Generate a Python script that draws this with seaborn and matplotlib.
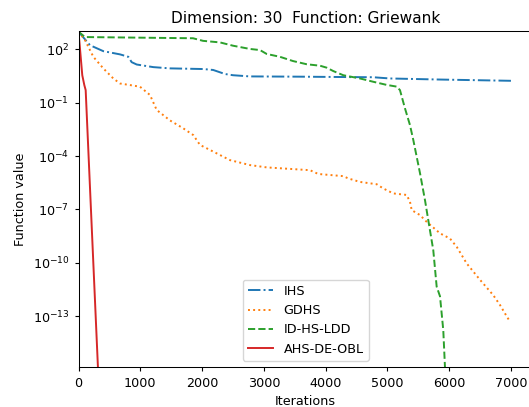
import pandas as pd
import matplotlib
matplotlib.use("Agg")
import matplotlib.pyplot as plt
import seaborn as sns

# Convergence curves (iteration, function value)
ihs_x = [0, 186, 401, 672, 806, 860, 942, 1210, 1480, 2020, 2180, 2370, 2500,
         2775, 3584, 4390, 4765, 5040, 5850, 7000]
ihs_y = [9.8e2, 1.7e2, 7.9e1, 5.2e1, 3.8e1, 1.9e1, 1.4e1, 1.0e1, 8.5, 7.8, 6.9,
         4.1, 3.5, 3.0, 2.9, 2.75, 2.7, 2.3, 2.0, 1.7]

gdhs_x = [0, 105, 240, 401, 563, 672, 833, 995, 1157, 1265, 1481, 1696, 1858,
          1966, 2128, 2451, 2775, 3045, 3746, 3880, 4285, 4366, 4555, 4825,
          4932, 5094, 5310, 5364, 5392, 5526, 5634, 5850, 6011, 6120, 6282,
          6497, 6712, 6821, 6902, 6983]
gdhs_y = [1.0e3, 3.3e2, 3.8e1, 8.5, 2.3, 1.2, 9.8e-1, 7.9e-1, 2.7e-1, 3.9e-2,
          1.0e-2, 3.6e-3, 1.5e-3, 4.2e-4, 2.2e-4, 5.9e-5, 3.1e-5, 2.3e-5,
          1.6e-5, 9.8e-6, 7.4e-6, 5.5e-6, 3.5e-6, 2.6e-6, 1.5e-6, 7.9e-7,
          6.5e-7, 2.7e-7, 9.1e-8, 4.8e-8, 2.0e-8, 4.5e-9, 2.3e-9, 7.9e-10,
          9.1e-11, 1.1e-11, 1.5e-12, 4.2e-13, 1.4e-13, 4.8e-14]

ldd_x = [0, 105, 1853, 2015, 2290, 2500, 2775, 2937, 3045, 3260, 3470, 3692,
         3908, 4016, 4123, 4285, 4555, 4770, 4987, 5149, 5202, 5283, 5364,
         5418, 5526, 5607, 5660, 5741, 5796, 5850, 5903, 5930, 5950]
ldd_y = [9.8e2, 4.9e2, 4.2e2, 3.0e2, 2.45e2, 1.6e2, 1.05e2, 9.1e1, 5.5e1,
         3.8e1, 2.2e1, 1.45e1, 1.2e1, 9.3, 6.0, 3.5, 2.3, 1.5, 1.0, 8.0e-1,
         5.1e-1, 4.8e-2, 5.5e-3, 7.9e-4, 1.1e-5, 3.3e-7, 2.5e-8, 5.1e-10,
         4.5e-12, 1.3e-12, 1.6e-14, 1.4e-16, 3e-17]

obl_x = [0, 61, 94, 116, 330]
obl_y = [1.0e3, 3.5, 9.8e-1, 5.1e-1, 8e-18]

series = [
    ("IHS", ihs_x, ihs_y, "-.", "tab:blue"),
    ("GDHS", gdhs_x, gdhs_y, ":", "tab:orange"),
    ("ID-HS-LDD", ldd_x, ldd_y, "--", "tab:green"),
    ("AHS-DE-OBL", obl_x, obl_y, "-", "tab:red"),
]

plt.rcParams["font.size"] = 9.2
plt.rcParams["xtick.major.size"] = 3.2
plt.rcParams["ytick.major.size"] = 3.2
plt.rcParams["axes.linewidth"] = 0.75

fig = plt.figure(figsize=(5.29, 4.07), dpi=100)
ax = fig.add_axes([0.1484, 0.0975, 0.8586, 0.8263])

for name, xs, ys, ls, col in series:
    df = pd.DataFrame({"Iterations": xs, "Function value": ys})
    sns.lineplot(data=df, x="Iterations", y="Function value", ax=ax,
                 sort=False, estimator=None, linestyle=ls, color=col,
                 linewidth=1.4, label=name)

ax.set_yscale("log")
ax.set_xlim(0, 7350)
ax.set_ylim(10 ** -15.88, 10 ** 3.03)
ax.set_yticks([1e2, 1e-1, 1e-4, 1e-7, 1e-10, 1e-13])
ax.minorticks_off()
ax.set_xticks([0, 1000, 2000, 3000, 4000, 5000, 6000, 7000])
ax.set_title("Dimension: 30  Function: Griewank")
ax.set_xlabel("Iterations")
ax.set_ylabel("Function value")
ax.legend(loc="lower center")

fig.savefig("out.png", dpi=100)
